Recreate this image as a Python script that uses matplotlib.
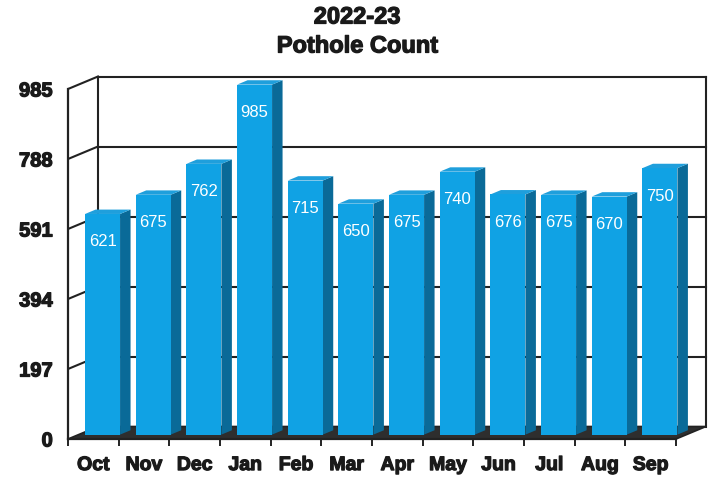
import matplotlib.pyplot as plt
import matplotlib.patheffects as pe
from matplotlib.patches import Polygon

# monthly pothole counts, FY 2022-23
months = ['Oct', 'Nov', 'Dec', 'Jan', 'Feb', 'Mar', 'Apr', 'May', 'Jun', 'Jul', 'Aug', 'Sep']
counts = [621, 675, 762, 985, 715, 650, 675, 740, 676, 675, 670, 750]
yticks = [0, 197, 394, 591, 788, 985]

plt.rcParams['font.family'] = ['Liberation Sans', 'DejaVu Sans']

n = len(months)
k = 985 / 350.0          # value units per pixel on the front plane
DX = 30 / 50.67          # depth offset of the back wall (categories)
DY = 12.5 * k            # depth offset of the back wall (value units)

front_c = '#10a2e4'
side_c = '#0a6a98'
top_c = '#1f9fdc'
line_c = '#222222'
txt_c = '#1a1a1a'
heavy = [pe.withStroke(linewidth=0.9, foreground=txt_c)]

fig = plt.figure(figsize=(7.12, 4.85), dpi=100)
ax = fig.add_axes([68 / 712, 35 / 485, 644 / 712, 380 / 485])
ax.set_xlim(0, 644 / 50.67)
ax.set_ylim(-10 * k, 370 * k)

# back wall + left wall frame and grid
top = yticks[-1]
for v in yticks[1:]:
    ax.plot([DX, n + DX], [v + DY, v + DY], color=line_c, lw=1.5, zorder=1)
    ax.plot([0, DX], [v, v + DY], color=line_c, lw=1.5, zorder=1)
ax.plot([DX, DX], [DY, top + DY], color=line_c, lw=1.5, zorder=1)
ax.plot([n + DX, n + DX], [DY, top + DY], color=line_c, lw=1.5, zorder=1)

# floor slab
floor = Polygon([(0, 0), (n, 0), (n + DX, DY), (DX, DY)], closed=True,
                facecolor='#2e2e2e', edgecolor=line_c, lw=1.2, zorder=2)
ax.add_patch(floor)

# 3d bars: front face at depth f, body depth d
f = 0.35
d = 0.35
gap = 0.13
width = 0.69
x0s = [i + gap + f * DX for i in range(n)]
ax.bar(x0s, counts, width=width, bottom=f * DY, align='edge',
       color=front_c, edgecolor='none', zorder=4)
for x0, v in zip(x0s, counts):
    x1 = x0 + width
    y0 = f * DY
    yt = v + y0
    side = Polygon([(x1, y0), (x1 + d * DX, y0 + d * DY),
                    (x1 + d * DX, yt + d * DY), (x1, yt)],
                   closed=True, facecolor=side_c, edgecolor='none', zorder=3)
    cap = Polygon([(x0, yt), (x1, yt), (x1 + d * DX, yt + d * DY),
                   (x0 + d * DX, yt + d * DY)],
                  closed=True, facecolor=top_c, edgecolor='none', zorder=3)
    ax.add_patch(side)
    ax.add_patch(cap)
    ax.annotate(str(v), (x0 + width / 2, yt), xytext=(0, -27),
                textcoords='offset pixels', ha='center', va='center',
                color='white', fontsize=12, zorder=5)

# front axes lines and labels
for s in ['top', 'right']:
    ax.spines[s].set_visible(False)
ax.spines['bottom'].set_position(('data', 0))
ax.spines['bottom'].set_bounds(0, n)
ax.spines['left'].set_bounds(0, top)
ax.spines['bottom'].set_color(line_c)
ax.spines['left'].set_color(line_c)
ax.spines['bottom'].set_linewidth(1.6)
ax.spines['left'].set_linewidth(1.6)
ax.spines['bottom'].set_zorder(6)

ax.set_yticks(yticks)
ax.set_yticklabels([str(t) for t in yticks], fontsize=14.5, fontweight='bold')
ax.tick_params(axis='y', length=0, pad=11, colors=txt_c)

ax.set_xticks([i + 0.5 for i in range(n)])
ax.set_xticklabels(months, fontsize=14, fontweight='bold')
ax.set_xticks(range(n + 1), minor=True)
ax.tick_params(axis='x', which='major', length=0, pad=13, colors=txt_c)
ax.tick_params(axis='x', which='minor', length=5, width=1.4, color=line_c)

for lbl in ax.get_xticklabels() + ax.get_yticklabels():
    lbl.set_path_effects(heavy)

t1 = fig.text(0.502, 1 - 18 / 485, '2022-23', ha='center', va='center',
              fontsize=17, fontweight='bold', color=txt_c)
t2 = fig.text(0.502, 1 - 47 / 485, 'Pothole Count', ha='center', va='center',
              fontsize=17, fontweight='bold', color=txt_c)
for t in (t1, t2):
    t.set_path_effects(heavy)

fig.savefig('out.png', dpi=100)
